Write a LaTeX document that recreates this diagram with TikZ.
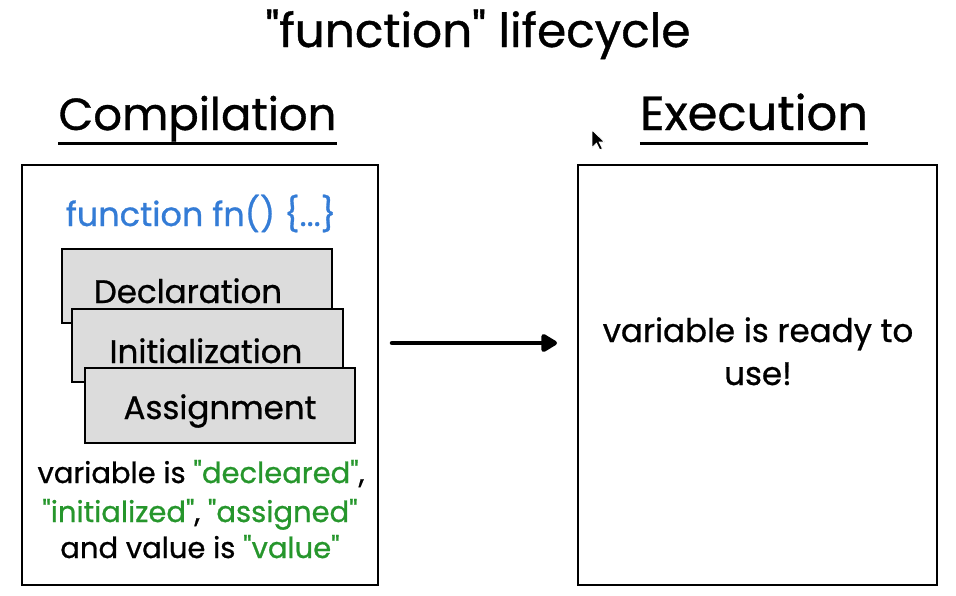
\documentclass[tikz,border=0pt]{standalone}
\usepackage{fontspec}
\setmainfont{Poppins}[Ligatures=TeXOff, FakeBold=0.8]
\usetikzlibrary{arrows.meta}

\definecolor{fnblue}{RGB}{52,124,214}
\definecolor{kwgreen}{RGB}{38,150,44}
\definecolor{stagegray}{RGB}{220,220,220}

\tikzset{
  frame/.style={draw=black, line width=2.5pt, inner sep=0pt},
  stagebox/.style={draw=black, line width=2.5pt, fill=stagegray, inner sep=0pt},
  title/.style={anchor=base, inner sep=0pt, font=\fontsize{47}{54}\selectfont},
  heading/.style={anchor=base, inner sep=0pt, font=\fontsize{45}{52}\selectfont},
  stage/.style={anchor=base, inner sep=0pt, font=\fontsize{32.5}{38}\selectfont},
  body/.style={anchor=base, inner sep=0pt, font=\fontsize{29}{34}\selectfont},
  uline/.style={line width=3pt},
  flow/.style={line width=4.5pt, line cap=round,
    -{Triangle[length=18pt,width=20pt,round]}}
}
\newcommand{\kw}[1]{\textcolor{kwgreen}{#1}}

\begin{document}
\begin{tikzpicture}[x=1pt,y=-1pt]
\useasboundingbox (0,0) rectangle (956,595);

% title
\node[title] (ttl) at (478,47) {"function" lifecycle};

% headings
\node[heading] (comp) at (197.5,130) {Compilation};
\draw[uline] ([yshift=-13pt]comp.base west) -- ([yshift=-13pt]comp.base east);
\node[heading, font=\fontsize{48}{55}\selectfont] (exec) at (754,130) {Execution};
\draw[uline] ([yshift=-13pt]exec.base west) -- ([yshift=-13pt]exec.base east);

% compilation box
\node[frame, minimum width=356pt, minimum height=420pt] (compbox) at (200,375) {};
\node[stage, font=\fontsize{33.5}{39}\selectfont, text=fnblue] (fn) at (201,226) {function fn() \{...\}};

\node[stagebox, minimum width=270pt, minimum height=74pt] (declbox) at (197,286) {};
\node[stage] (decl) at (188,303) {Declaration};
\node[stagebox, minimum width=271pt, minimum height=73pt] (initbox) at (207.5,345.5) {};
\node[stage] (init) at (206,363) {Initialization};
\node[stagebox, minimum width=270pt, minimum height=75pt] (asgbox) at (220,405.5) {};
\node[stage] (asg) at (220,419) {Assignment};

\node[body] (l1) at (201,483) {variable is \kw{"decleared"},};
\node[body] (l2) at (200,522) {\kw{"initialized"}, \kw{"assigned"}};
\node[body] (l3) at (200,558) {and value is \kw{"value"}};

% arrow
\coordinate (flowS) at (392,343);
\coordinate (flowE) at (557,343);
\draw[flow] (flowS) -- (flowE);

% execution box
\node[frame, minimum width=359pt, minimum height=420pt] (execbox) at (757.5,375) {};
\node[stage] (r1) at (758,342) {variable is ready to};
\node[stage] (r2) at (758,385) {use!};

% mouse pointer
\begin{scope}[shift={(592,130)}, scale=1.1]
\fill[black, draw=white, line width=0.8pt] (0,0) -- (0,16) -- (4,12) -- (7,18)
  -- (9.5,17) -- (6.5,11) -- (11.5,11) -- cycle;
\end{scope}
\end{tikzpicture}
\end{document}
